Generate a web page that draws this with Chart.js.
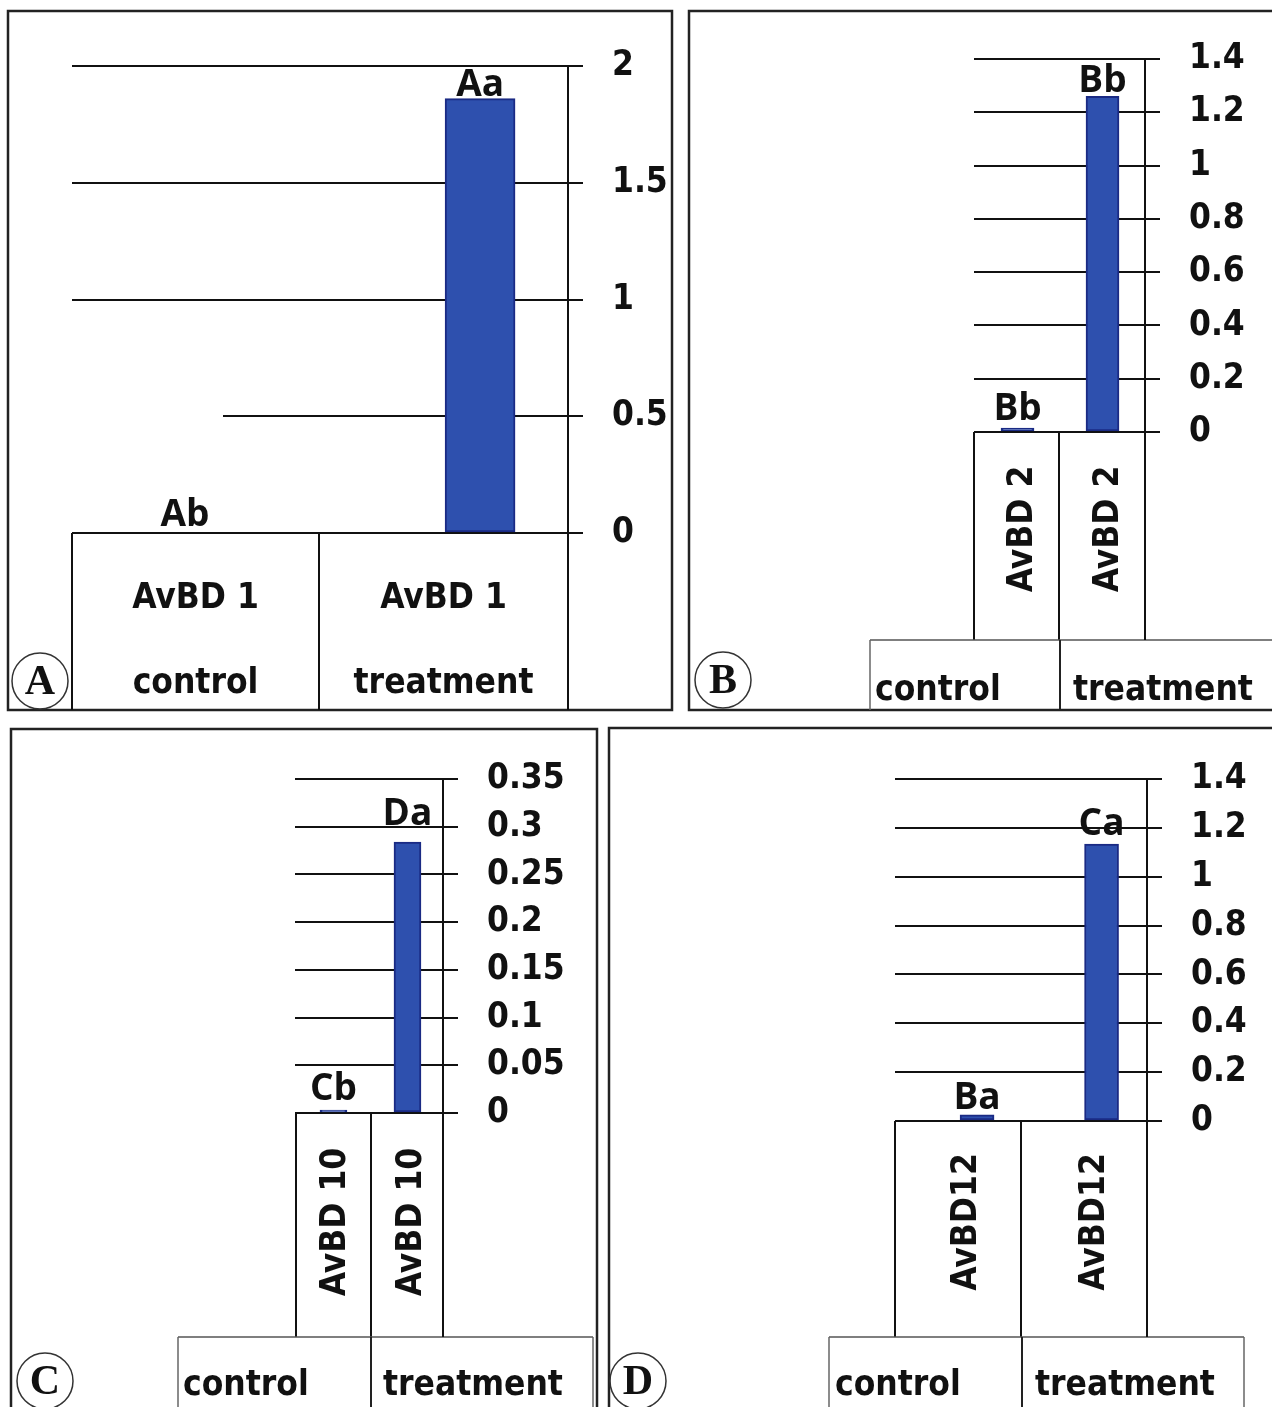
<!DOCTYPE html>
<html>
<head>
<meta charset="utf-8">
<title>AvBD expression: control vs treatment</title>
<script src="https://cdn.jsdelivr.net/npm/chart.js@4.4.1/dist/chart.umd.min.js"></script>
<style>
  html, body { margin: 0; padding: 0; background: #fff; }
  #wrap { position: relative; width: 1272px; height: 1407px; overflow: hidden; background: #fff; }
  #wrap canvas { position: absolute; left: 0; top: 0; pointer-events: none; }
</style>
</head>
<body>
<div id="wrap">
  <canvas id="cA" width="1272" height="1407"></canvas>
  <canvas id="cB" width="1272" height="1407"></canvas>
  <canvas id="cC" width="1272" height="1407"></canvas>
  <canvas id="cD" width="1272" height="1407"></canvas>
</div>
<script>
// ---- data ----
const groups = ['control', 'treatment'];

const genesA = ['AvBD 1', 'AvBD 1'];
const genesB = ['AvBD 2', 'AvBD 2'];
const genesC = ['AvBD 10', 'AvBD 10'];
const genesD = ['AvBD12', 'AvBD12'];

const valuesA = [0, 1.86];
const valuesB = [0.015, 1.26];
const valuesC = [0.003, 0.284];
const valuesD = [0.025, 1.134];

const lettersA = ['Ab', 'Aa'];
const lettersB = ['Bb', 'Bb'];
const lettersC = ['Cb', 'Da'];
const lettersD = ['Ba', 'Ca'];

const ticksA = [0, 0.5, 1, 1.5, 2];
const ticksB = [0, 0.2, 0.4, 0.6, 0.8, 1, 1.2, 1.4];
const ticksC = [0, 0.05, 0.1, 0.15, 0.2, 0.25, 0.3, 0.35];
const ticksD = [0, 0.2, 0.4, 0.6, 0.8, 1, 1.2, 1.4];

const tickLabelsA = ['0', '0.5', '1', '1.5', '2'];
const tickLabelsB = ['0', '0.2', '0.4', '0.6', '0.8', '1', '1.2', '1.4'];
const tickLabelsC = ['0', '0.05', '0.1', '0.15', '0.2', '0.25', '0.3', '0.35'];
const tickLabelsD = ['0', '0.2', '0.4', '0.6', '0.8', '1', '1.2', '1.4'];

// ---- styling ----
const W = 1272, H = 1407, AXIS_W = 125;
const INK = '#111';
const TEXT_FAMILY = "'DejaVu Sans Condensed', 'DejaVu Sans', sans-serif";
const TEXT_SIZE = 35;
const LETTER_FONT = "bold 37px 'Open Sans', 'DejaVu Sans', sans-serif";
const PANEL_FONT = "bold 42px 'Liberation Serif', 'DejaVu Serif', serif";
const BAR_FILL = '#2e50ae';
const BAR_EDGE = '#1a2a84';

const panels = [
  { id: 'cA', tag: 'A', genes: genesA, values: valuesA, letters: lettersA,
    ticks: ticksA, tickLabels: tickLabelsA,
    area: { left: 72, right: 568, top: 66, bottom: 533 }, xRange: [-0.383, 1.298],
    barWidth: 70, labelGap: [7, 3],
    frame: [8, 11, 672, 710], circle: [40, 681],
    table: { kind: 'flat', cols: [72, 319, 568], bottom: 710, geneBase: 608, groupBase: 693 },
    erase: { value: 0.5, to: 223 } },
  { id: 'cB', tag: 'B', genes: genesB, values: valuesB, letters: lettersB,
    ticks: ticksB, tickLabels: tickLabelsB,
    area: { left: 974, right: 1145, top: 59, bottom: 432 }, xRange: [-0.512, 1.5],
    barWidth: 33, labelGap: [8, 4],
    frame: [689, 11, 1300, 710], circle: [723, 680],
    table: { kind: 'stacked', cols: [974, 1059, 1145], split: 640, lower: [870, 1060, 1300],
             bottom: 710, geneX: [1019, 1105], geneCY: 529, groupX: [875, 1073], groupBase: 700 } },
  { id: 'cC', tag: 'C', genes: genesC, values: valuesC, letters: lettersC,
    ticks: ticksC, tickLabels: tickLabelsC,
    area: { left: 295, right: 443, top: 779, bottom: 1113 }, xRange: [-0.52, 1.48],
    barWidth: 27, labelGap: [10, 17],
    frame: [11, 729, 597, 1430], circle: [45, 1381],
    table: { kind: 'stacked', cols: [296, 371, 443], split: 1337, lower: [178, 371, 593],
             bottom: 1430, geneX: [332, 408], geneCY: 1222, groupX: [183, 383], groupBase: 1395 } },
  { id: 'cD', tag: 'D', genes: genesD, values: valuesD, letters: lettersD,
    ticks: ticksD, tickLabels: tickLabelsD,
    area: { left: 895, right: 1147, top: 779, bottom: 1121 }, xRange: [-0.659, 1.365],
    barWidth: 34, labelGap: [6, 9],
    frame: [609, 728, 1300, 1430], circle: [638, 1381],
    table: { kind: 'stacked', cols: [895, 1021, 1147], split: 1337, lower: [829, 1022, 1244],
             bottom: 1430, geneX: [963, 1091], geneCY: 1222, groupX: [835, 1035], groupBase: 1395 } }
];

function line(ctx, x1, y1, x2, y2, color, width) {
  ctx.beginPath();
  ctx.strokeStyle = color;
  ctx.lineWidth = width;
  ctx.moveTo(x1, y1);
  ctx.lineTo(x2, y2);
  ctx.stroke();
}

// Frame, category table, panel tag and significance letters for one panel
function makeDecor(p) {
  return {
    id: 'decor' + p.tag,
    beforeDraw(chart) {
      const ctx = chart.ctx;
      const a = chart.chartArea;
      const t = p.table;
      ctx.save();
      // panel frame
      const [fx1, fy1, fx2, fy2] = p.frame;
      ctx.strokeStyle = '#222';
      ctx.lineWidth = 2.5;
      ctx.strokeRect(fx1, fy1, fx2 - fx1, fy2 - fy1);

      ctx.fillStyle = INK;
      ctx.font = 'bold ' + TEXT_SIZE + 'px ' + TEXT_FAMILY;
      if (t.kind === 'flat') {
        // one table row holding gene and group, under the bars
        t.cols.forEach(x => line(ctx, x, a.bottom, x, t.bottom, INK, 2));
        ctx.textAlign = 'center';
        ctx.textBaseline = 'alphabetic';
        for (let i = 0; i < 2; i++) {
          const cx = (t.cols[i] + t.cols[i + 1]) / 2;
          ctx.fillText(p.genes[i], cx, t.geneBase);
          ctx.fillText(groups[i], cx, t.groupBase);
        }
      } else {
        // upper row: rotated gene names
        t.cols.forEach(x => line(ctx, x, a.bottom, x, t.split, INK, 2));
        // lower row: group names
        line(ctx, t.lower[0], t.split, t.lower[2], t.split, '#555', 1.5);
        line(ctx, t.lower[0], t.split, t.lower[0], t.bottom, '#666', 1.5);
        line(ctx, t.lower[2], t.split, t.lower[2], t.bottom, '#666', 1.5);
        line(ctx, t.lower[1], t.split, t.lower[1], t.bottom, '#222', 2);
        ctx.textAlign = 'center';
        ctx.textBaseline = 'alphabetic';
        for (let i = 0; i < 2; i++) {
          ctx.save();
          ctx.translate(t.geneX[i] + 13, t.geneCY);
          ctx.rotate(-Math.PI / 2);
          ctx.fillText(p.genes[i], 0, 0);
          ctx.restore();
        }
        ctx.textAlign = 'left';
        for (let i = 0; i < 2; i++) {
          ctx.fillText(groups[i], t.groupX[i], t.groupBase);
        }
      }
      // axis line continues down the table
      line(ctx, a.right, a.bottom, a.right, t.kind === 'flat' ? t.bottom : t.split, INK, 2);

      // circled panel tag
      const [cx, cy] = p.circle;
      ctx.beginPath();
      ctx.arc(cx, cy, 28, 0, Math.PI * 2);
      ctx.strokeStyle = '#333';
      ctx.lineWidth = 1.5;
      ctx.stroke();
      ctx.font = PANEL_FONT;
      ctx.textAlign = 'center';
      ctx.textBaseline = 'middle';
      ctx.fillStyle = '#111';
      ctx.fillText(p.tag, cx, cy + 2);
      ctx.restore();
    },
    beforeDatasetsDraw(chart) {
      if (!p.erase) return;
      const ctx = chart.ctx;
      const y = chart.scales.y.getPixelForValue(p.erase.value);
      ctx.save();
      ctx.fillStyle = '#fff';
      ctx.fillRect(chart.chartArea.left - 2, y - 2, p.erase.to - chart.chartArea.left + 2, 4);
      ctx.restore();
    },
    afterDatasetsDraw(chart) {
      const ctx = chart.ctx;
      const meta = chart.getDatasetMeta(0);
      ctx.save();
      ctx.font = LETTER_FONT;
      ctx.fillStyle = INK;
      ctx.textAlign = 'center';
      ctx.textBaseline = 'alphabetic';
      meta.data.forEach((el, i) => {
        ctx.fillText(p.letters[i], el.x, el.y - p.labelGap[i]);
      });
      ctx.restore();
    }
  };
}

panels.forEach(p => {
  new Chart(document.getElementById(p.id), {
    type: 'bar',
    data: {
      datasets: [{
        data: p.values.map((v, i) => ({ x: i, y: v })),
        backgroundColor: BAR_FILL,
        borderColor: BAR_EDGE,
        borderWidth: 2,
        borderSkipped: false,
        barThickness: p.barWidth
      }]
    },
    options: {
      responsive: false,
      animation: false,
      devicePixelRatio: 1,
      layout: {
        padding: {
          left: p.area.left,
          top: p.area.top,
          bottom: H - p.area.bottom,
          right: Math.max(0, W - p.area.right - AXIS_W)
        }
      },
      plugins: { legend: { display: false }, tooltip: { enabled: false } },
      scales: {
        x: { type: 'linear', min: p.xRange[0], max: p.xRange[1], display: false, offset: false },
        y: {
          position: 'right',
          min: 0,
          max: p.ticks[p.ticks.length - 1],
          afterBuildTicks: s => { s.ticks = p.ticks.map(v => ({ value: v })); },
          afterTickToLabelConversion: s => {
            s.ticks.forEach((tk, i) => { tk.label = p.tickLabels[i]; });
          },
          afterFit: s => { s.width = Math.min(AXIS_W, W - p.area.right); },
          grid: { color: INK, lineWidth: 2, tickLength: 15, drawTicks: true },
          border: { display: true, color: INK, width: 2 },
          ticks: {
            padding: 29,
            color: INK,
            autoSkip: false,
            font: { family: TEXT_FAMILY, size: TEXT_SIZE, weight: 'bold' }
          }
        }
      }
    },
    plugins: [makeDecor(p)]
  });
});
</script>
</body>
</html>
